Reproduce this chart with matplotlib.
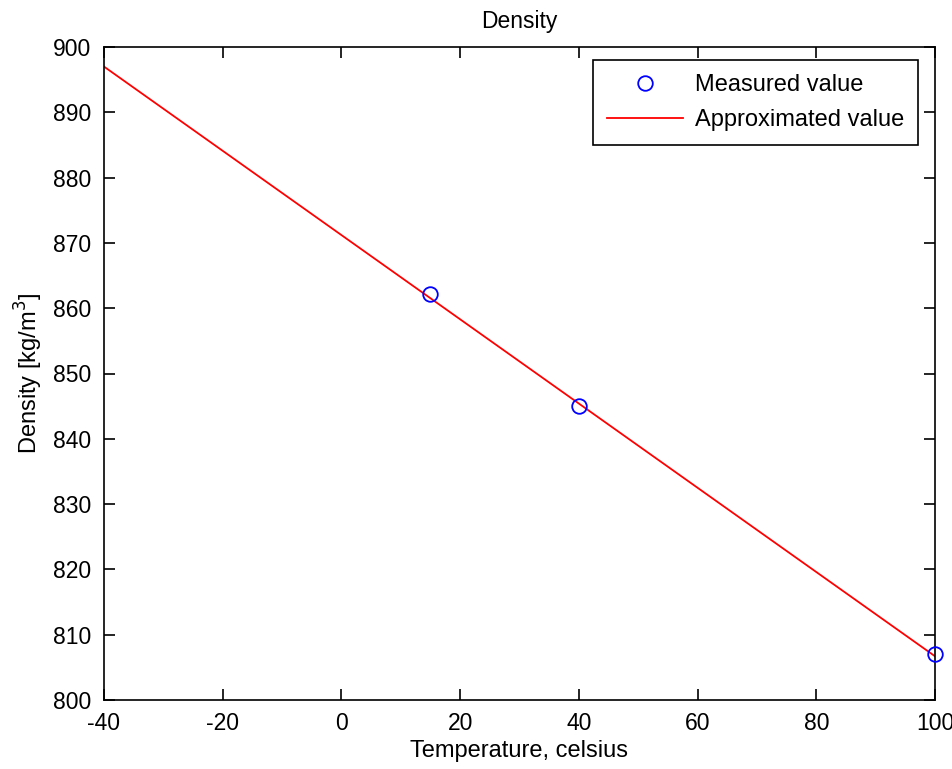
import matplotlib
matplotlib.use("Agg")
from matplotlib import pyplot as plt

# Mesures (temperature en celsius, densite en kg/m3)
temp_mesure = [15, 40, 100]
dens_mesure = [862.2, 845.0, 807.0]

# Droite approchee, lue aux extremites du graphique
temp_approx = [-40, 100]
dens_approx = [897.0, 806.7]

plt.rcParams['font.family'] = ['Liberation Sans', 'DejaVu Sans']
plt.rcParams['font.size'] = 17
plt.rcParams['axes.unicode_minus'] = False

fig = plt.figure(figsize=(9.53, 7.69), dpi=100)
ax = fig.add_axes([104 / 953, 1 - 700 / 769, (935 - 104) / 953, (700 - 47) / 769])

ax.plot(temp_mesure, dens_mesure, 'o', markerfacecolor='none', markeredgecolor='blue',
        markersize=10.5, markeredgewidth=1.3, clip_on=False, zorder=3, label='Measured value')
ax.plot(temp_approx, dens_approx, 'r-', linewidth=1.3, label='Approximated value')

ax.set_xlim(-40, 100)
ax.set_ylim(800, 900)
ax.set_xticks(range(-40, 101, 20))
ax.set_yticks(range(800, 901, 10))
ax.tick_params(direction='in', top=True, right=True, length=8, width=1.2, pad=9,
               labelsize=16.5)
for s in ax.spines.values():
    s.set_linewidth(1.2)

ax.set_title('Density', fontsize=16.5, pad=14)
ax.set_xlabel('Temperature, celsius', labelpad=3)
ax.set_ylabel('Density [kg/m$^3$]', labelpad=6)

leg = ax.legend(loc='upper right', bbox_to_anchor=(0.9795, 0.98), fancybox=False,
                framealpha=1, edgecolor='black', borderaxespad=0, handlelength=3.2,
                handletextpad=0.5, borderpad=0.6, labelspacing=0.55)
leg.get_frame().set_linewidth(1.2)

fig.savefig('out.png', dpi=100)
